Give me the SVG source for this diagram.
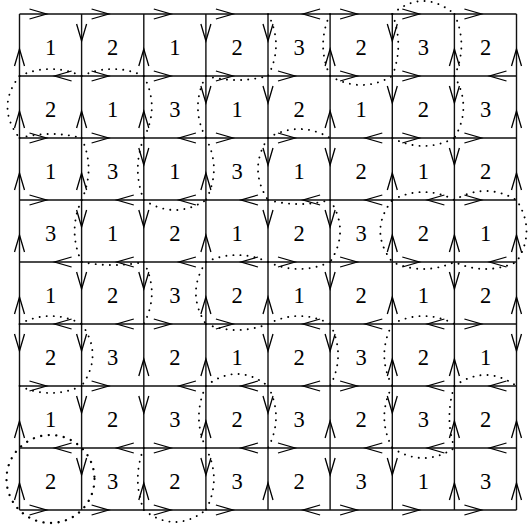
<svg xmlns="http://www.w3.org/2000/svg" width="528" height="527" viewBox="0 0 528 527">
<style>
.g{stroke:#111;stroke-width:1.4;fill:none}
.a{stroke:#000;stroke-width:1.3;fill:none;stroke-linejoin:miter}
.d{stroke:#000;stroke-width:1.9;fill:none;stroke-linecap:round;stroke-dasharray:0.1 7}
.db{stroke:#000;stroke-width:2.3;fill:none;stroke-linecap:round;stroke-dasharray:0.1 7.5}
text{font-family:"Liberation Serif","Times New Roman",serif;font-size:22.5px;text-anchor:middle;fill:#000}
</style>
<defs>
<path id="aE" class="a" d="M10,-5 L27,0 L10,5"/>
<path id="aW" class="a" d="M-10,-5 L-27,0 L-10,5"/>
<path id="aS" class="a" d="M-5,10 L0,27 L5,10"/>
<path id="aN" class="a" d="M-5,-10 L0,-27 L5,-10"/>
</defs>
<rect width="528" height="527" fill="#fff"/>
<g id="connectors">
<g id="grid" class="g">
<path d="M19.5,14H516.5M19.5,76H516.5M19.5,138H516.5M19.5,200H516.5M19.5,262H516.5M19.5,324H516.5M19.5,386H516.5M19.5,448H516.5M19.5,510H516.5"/>
<path d="M19.5,14V510M81.6,14V510M143.8,14V510M205.9,14V510M268,14V510M330.1,14V510M392.3,14V510M454.4,14V510M516.5,14V510"/>
</g>
<g id="arrows">
<use href="#aE" x="19.5" y="14"/>
<use href="#aE" x="81.6" y="14"/><use href="#aS" x="81.6" y="14"/>
<use href="#aE" x="143.8" y="14"/>
<use href="#aE" x="205.9" y="14"/><use href="#aS" x="205.9" y="14"/>
<use href="#aS" x="268" y="14"/>
<use href="#aW" x="330.1" y="14"/><use href="#aE" x="330.1" y="14"/>
<use href="#aE" x="392.3" y="14"/><use href="#aS" x="392.3" y="14"/>
<use href="#aE" x="454.4" y="14"/>

<use href="#aN" x="19.5" y="76"/>
<use href="#aW" x="81.6" y="76"/><use href="#aE" x="81.6" y="76"/>
<use href="#aN" x="143.8" y="76"/><use href="#aE" x="143.8" y="76"/>
<use href="#aE" x="205.9" y="76"/><use href="#aS" x="205.9" y="76"/>
<use href="#aE" x="268" y="76"/><use href="#aS" x="268" y="76"/>
<use href="#aN" x="330.1" y="76"/><use href="#aE" x="330.1" y="76"/>
<use href="#aE" x="392.3" y="76"/><use href="#aS" x="392.3" y="76"/>
<use href="#aN" x="454.4" y="76"/><use href="#aS" x="454.4" y="76"/>
<use href="#aN" x="516.5" y="76"/><use href="#aW" x="516.5" y="76"/>

<use href="#aN" x="19.5" y="138"/><use href="#aE" x="19.5" y="138"/>
<use href="#aN" x="81.6" y="138"/><use href="#aE" x="81.6" y="138"/>
<use href="#aN" x="143.8" y="138"/><use href="#aS" x="143.8" y="138"/>
<use href="#aW" x="205.9" y="138"/><use href="#aE" x="205.9" y="138"/>
<use href="#aE" x="268" y="138"/><use href="#aS" x="268" y="138"/>
<use href="#aN" x="330.1" y="138"/><use href="#aS" x="330.1" y="138"/>
<use href="#aW" x="392.3" y="138"/><use href="#aE" x="392.3" y="138"/>
<use href="#aE" x="454.4" y="138"/><use href="#aS" x="454.4" y="138"/>
<use href="#aN" x="516.5" y="138"/>

<use href="#aN" x="19.5" y="200"/><use href="#aE" x="19.5" y="200"/>
<use href="#aN" x="81.6" y="200"/><use href="#aS" x="81.6" y="200"/>
<use href="#aW" x="143.8" y="200"/><use href="#aS" x="143.8" y="200"/>
<use href="#aN" x="205.9" y="200"/><use href="#aW" x="205.9" y="200"/>
<use href="#aW" x="268" y="200"/><use href="#aS" x="268" y="200"/>
<use href="#aW" x="330.1" y="200"/><use href="#aS" x="330.1" y="200"/>
<use href="#aN" x="392.3" y="200"/><use href="#aW" x="392.3" y="200"/>
<use href="#aW" x="454.4" y="200"/><use href="#aE" x="454.4" y="200"/>
<use href="#aN" x="516.5" y="200"/>

<use href="#aN" x="19.5" y="262"/>
<use href="#aW" x="81.6" y="262"/><use href="#aS" x="81.6" y="262"/>
<use href="#aW" x="143.8" y="262"/><use href="#aS" x="143.8" y="262"/>
<use href="#aN" x="205.9" y="262"/><use href="#aW" x="205.9" y="262"/>
<use href="#aW" x="268" y="262"/><use href="#aE" x="268" y="262"/>
<use href="#aE" x="330.1" y="262"/><use href="#aS" x="330.1" y="262"/>
<use href="#aN" x="392.3" y="262"/><use href="#aE" x="392.3" y="262"/>
<use href="#aN" x="454.4" y="262"/><use href="#aS" x="454.4" y="262"/>
<use href="#aN" x="516.5" y="262"/><use href="#aW" x="516.5" y="262"/>

<use href="#aN" x="19.5" y="324"/><use href="#aS" x="19.5" y="324"/>
<use href="#aW" x="81.6" y="324"/><use href="#aS" x="81.6" y="324"/>
<use href="#aW" x="143.8" y="324"/><use href="#aE" x="143.8" y="324"/>
<use href="#aN" x="205.9" y="324"/><use href="#aE" x="205.9" y="324"/>
<use href="#aN" x="268" y="324"/><use href="#aS" x="268" y="324"/>
<use href="#aW" x="330.1" y="324"/><use href="#aS" x="330.1" y="324"/>
<use href="#aN" x="392.3" y="324"/><use href="#aW" x="392.3" y="324"/>
<use href="#aW" x="454.4" y="324"/><use href="#aE" x="454.4" y="324"/>
<use href="#aN" x="516.5" y="324"/><use href="#aS" x="516.5" y="324"/>

<use href="#aE" x="19.5" y="386"/>
<use href="#aE" x="81.6" y="386"/><use href="#aS" x="81.6" y="386"/>
<use href="#aN" x="143.8" y="386"/><use href="#aS" x="143.8" y="386"/>
<use href="#aN" x="205.9" y="386"/><use href="#aW" x="205.9" y="386"/>
<use href="#aW" x="268" y="386"/><use href="#aS" x="268" y="386"/>
<use href="#aW" x="330.1" y="386"/><use href="#aE" x="330.1" y="386"/>
<use href="#aN" x="392.3" y="386"/><use href="#aS" x="392.3" y="386"/>
<use href="#aN" x="454.4" y="386"/><use href="#aW" x="454.4" y="386"/>
<use href="#aW" x="516.5" y="386"/>

<use href="#aN" x="19.5" y="448"/>
<use href="#aW" x="81.6" y="448"/><use href="#aS" x="81.6" y="448"/>
<use href="#aW" x="143.8" y="448"/><use href="#aE" x="143.8" y="448"/>
<use href="#aN" x="205.9" y="448"/><use href="#aS" x="205.9" y="448"/>
<use href="#aW" x="268" y="448"/><use href="#aE" x="268" y="448"/>
<use href="#aN" x="330.1" y="448"/><use href="#aS" x="330.1" y="448"/>
<use href="#aW" x="392.3" y="448"/><use href="#aS" x="392.3" y="448"/>
<use href="#aN" x="454.4" y="448"/><use href="#aW" x="454.4" y="448"/>
<use href="#aN" x="516.5" y="448"/><use href="#aW" x="516.5" y="448"/>

<use href="#aN" x="19.5" y="510"/><use href="#aE" x="19.5" y="510"/>
<use href="#aE" x="81.6" y="510"/>
<use href="#aN" x="143.8" y="510"/><use href="#aE" x="143.8" y="510"/>
<use href="#aE" x="205.9" y="510"/>
<use href="#aN" x="268" y="510"/>
<use href="#aW" x="330.1" y="510"/><use href="#aE" x="330.1" y="510"/>
<use href="#aE" x="392.3" y="510"/>
<use href="#aN" x="454.4" y="510"/><use href="#aE" x="454.4" y="510"/>
<use href="#aN" x="516.5" y="510"/>
</g>
</g>
<g id="dotted" class="d">
<path d="M19.5,76 Q-4.5,107 19.5,138"/>
<path d="M19.5,76 Q50.6,62 81.6,76"/>
<path d="M19.5,138 Q50.6,130 81.6,138"/>
<path d="M81.6,76 Q112.7,62 143.8,76"/>
<path d="M143.8,76 Q159.8,107 143.8,138"/>
<path d="M205.9,76 Q189.9,107 205.9,138"/>
<path d="M205.9,76 Q237,84 268,76"/>
<path d="M268,14 Q284,45 268,76"/>
<path d="M330.1,14 Q316.1,45 330.1,76"/>
<path d="M330.1,76 Q361.2,94 392.3,76"/>
<path d="M392.3,14 Q404.3,45 392.3,76"/>
<path d="M392.3,14 Q423.3,-12 454.4,14"/>
<path d="M454.4,14 Q468.4,45 454.4,76"/>
<path d="M454.4,76 Q472.4,107 454.4,138"/>
<path d="M392.3,138 Q423.3,154 454.4,138"/>
<path d="M268,138 Q299.1,120 330.1,138"/>
<path d="M81.6,138 Q95.6,169 81.6,200"/>
<path d="M143.8,138 Q131.8,169 143.8,200"/>
<path d="M205.9,138 Q221.9,169 205.9,200"/>
<path d="M268,138 Q248,169 268,200"/>
<path d="M81.6,200 Q67.6,231 81.6,262"/>
<path d="M143.8,200 Q174.8,220 205.9,200"/>
<path d="M268,200 Q299.1,208 330.1,200"/>
<path d="M330.1,200 Q350.1,231 330.1,262"/>
<path d="M392.3,200 Q423.3,184 454.4,200 Q485.5,182 516.5,200 Q536.5,231 516.5,262 Q485.5,276 454.4,262 Q423.3,276 392.3,262 Q368.3,231 392.3,200"/>
<path d="M81.6,262 Q112.7,268 143.8,262"/>
<path d="M143.8,262 Q159.8,293 143.8,324"/>
<path d="M205.9,262 Q185.9,293 205.9,324"/>
<path d="M205.9,262 Q237,248 268,262"/>
<path d="M268,262 Q299.1,276 330.1,262"/>
<path d="M19.5,324 Q50.6,308 81.6,324"/>
<path d="M205.9,324 Q237,336 268,324"/>
<path d="M268,324 Q299.1,308 330.1,324"/>
<path d="M392.3,324 Q423.3,308 454.4,324"/>
<path d="M81.6,324 Q103.6,355 81.6,386"/>
<path d="M330.1,324 Q346.1,355 330.1,386"/>
<path d="M392.3,324 Q376.3,355 392.3,386"/>
<path d="M19.5,386 Q50.6,400 81.6,386"/>
<path d="M205.9,386 Q237,362 268,386"/>
<path d="M454.4,386 Q485.5,364 516.5,386"/>
<path d="M205.9,386 Q191.9,417 205.9,448"/>
<path d="M268,386 Q284,417 268,448"/>
<path d="M392.3,386 Q376.3,417 392.3,448"/>
<path d="M454.4,386 Q444.4,417 454.4,448"/>
<path d="M392.3,448 Q423.3,468 454.4,448"/>
<path d="M143.8,448 Q131.8,479 143.8,510"/>
<path d="M205.9,448 Q221.9,479 205.9,510"/>
<path d="M143.8,510 Q174.8,534 205.9,510"/>
<circle class="db" cx="50.5" cy="479" r="44"/>
</g>
<g id="cells">
<g id="r0c0"><text x="50.6" y="55">1</text></g>
<g id="r0c1"><text x="112.7" y="55">2</text></g>
<g id="r0c2"><text x="174.8" y="55">1</text></g>
<g id="r0c3"><text x="237" y="55">2</text></g>
<g id="r0c4"><text x="299.1" y="55">3</text></g>
<g id="r0c5"><text x="361.2" y="55">2</text></g>
<g id="r0c6"><text x="423.3" y="55">3</text></g>
<g id="r0c7"><text x="485.5" y="55">2</text></g>
<g id="r1c0"><text x="50.6" y="117">2</text></g>
<g id="r1c1"><text x="112.7" y="117">1</text></g>
<g id="r1c2"><text x="174.8" y="117">3</text></g>
<g id="r1c3"><text x="237" y="117">1</text></g>
<g id="r1c4"><text x="299.1" y="117">2</text></g>
<g id="r1c5"><text x="361.2" y="117">1</text></g>
<g id="r1c6"><text x="423.3" y="117">2</text></g>
<g id="r1c7"><text x="485.5" y="117">3</text></g>
<g id="r2c0"><text x="50.6" y="179">1</text></g>
<g id="r2c1"><text x="112.7" y="179">3</text></g>
<g id="r2c2"><text x="174.8" y="179">1</text></g>
<g id="r2c3"><text x="237" y="179">3</text></g>
<g id="r2c4"><text x="299.1" y="179">1</text></g>
<g id="r2c5"><text x="361.2" y="179">2</text></g>
<g id="r2c6"><text x="423.3" y="179">1</text></g>
<g id="r2c7"><text x="485.5" y="179">2</text></g>
<g id="r3c0"><text x="50.6" y="241">3</text></g>
<g id="r3c1"><text x="112.7" y="241">1</text></g>
<g id="r3c2"><text x="174.8" y="241">2</text></g>
<g id="r3c3"><text x="237" y="241">1</text></g>
<g id="r3c4"><text x="299.1" y="241">2</text></g>
<g id="r3c5"><text x="361.2" y="241">3</text></g>
<g id="r3c6"><text x="423.3" y="241">2</text></g>
<g id="r3c7"><text x="485.5" y="241">1</text></g>
<g id="r4c0"><text x="50.6" y="303">1</text></g>
<g id="r4c1"><text x="112.7" y="303">2</text></g>
<g id="r4c2"><text x="174.8" y="303">3</text></g>
<g id="r4c3"><text x="237" y="303">2</text></g>
<g id="r4c4"><text x="299.1" y="303">1</text></g>
<g id="r4c5"><text x="361.2" y="303">2</text></g>
<g id="r4c6"><text x="423.3" y="303">1</text></g>
<g id="r4c7"><text x="485.5" y="303">2</text></g>
<g id="r5c0"><text x="50.6" y="365">2</text></g>
<g id="r5c1"><text x="112.7" y="365">3</text></g>
<g id="r5c2"><text x="174.8" y="365">2</text></g>
<g id="r5c3"><text x="237" y="365">1</text></g>
<g id="r5c4"><text x="299.1" y="365">2</text></g>
<g id="r5c5"><text x="361.2" y="365">3</text></g>
<g id="r5c6"><text x="423.3" y="365">2</text></g>
<g id="r5c7"><text x="485.5" y="365">1</text></g>
<g id="r6c0"><text x="50.6" y="427">1</text></g>
<g id="r6c1"><text x="112.7" y="427">2</text></g>
<g id="r6c2"><text x="174.8" y="427">3</text></g>
<g id="r6c3"><text x="237" y="427">2</text></g>
<g id="r6c4"><text x="299.1" y="427">3</text></g>
<g id="r6c5"><text x="361.2" y="427">2</text></g>
<g id="r6c6"><text x="423.3" y="427">3</text></g>
<g id="r6c7"><text x="485.5" y="427">2</text></g>
<g id="r7c0"><text x="50.6" y="489">2</text></g>
<g id="r7c1"><text x="112.7" y="489">3</text></g>
<g id="r7c2"><text x="174.8" y="489">2</text></g>
<g id="r7c3"><text x="237" y="489">3</text></g>
<g id="r7c4"><text x="299.1" y="489">2</text></g>
<g id="r7c5"><text x="361.2" y="489">3</text></g>
<g id="r7c6"><text x="423.3" y="489">1</text></g>
<g id="r7c7"><text x="485.5" y="489">3</text></g>
</g>
</svg>
